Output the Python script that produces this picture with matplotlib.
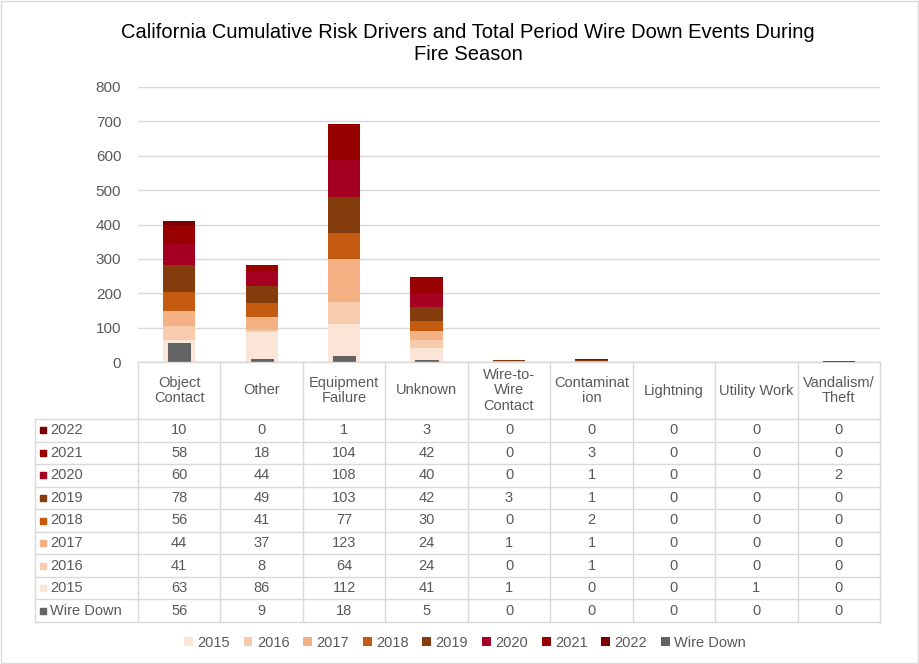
import numpy as np
import matplotlib.pyplot as plt
from matplotlib.patches import Patch

plt.rcParams['font.family'] = ['Liberation Sans', 'DejaVu Sans']

categories = ['Object\nContact', 'Other', 'Equipment\nFailure', 'Unknown', 'Wire-to-\nWire\nContact',
              'Contaminat\nion', 'Lightning', 'Utility Work', 'Vandalism/\nTheft']
years = ['2015', '2016', '2017', '2018', '2019', '2020', '2021', '2022']
y2015 = [63, 86, 112, 41, 1, 0, 0, 1, 0]
y2016 = [41, 8, 64, 24, 0, 1, 0, 0, 0]
y2017 = [44, 37, 123, 24, 1, 1, 0, 0, 0]
y2018 = [56, 41, 77, 30, 0, 2, 0, 0, 0]
y2019 = [78, 49, 103, 42, 3, 1, 0, 0, 0]
y2020 = [60, 44, 108, 40, 0, 1, 0, 0, 2]
y2021 = [58, 18, 104, 42, 0, 3, 0, 0, 0]
y2022 = [10, 0, 1, 3, 0, 0, 0, 0, 0]
wire_down = [56, 9, 18, 5, 0, 0, 0, 0, 0]

year_vals = [y2015, y2016, y2017, y2018, y2019, y2020, y2021, y2022]
year_colors = ['#FBE5D6', '#F8CBAD', '#F4B183', '#C55A11', '#843C0C', '#A50021', '#990000', '#7B0000']
wire_color = '#636363'

grid_c = '#D9D9D9'
text_c = '#595959'

W, H = 920, 664
fig = plt.figure(figsize=(W / 100, H / 100), dpi=100)

# main bar axes (pixel layout)
x0, x1 = 138, 880
ytop, ybot = 87, 362
ax = fig.add_axes([x0 / W, (H - ybot) / H, (x1 - x0) / W, (ybot - ytop) / H])
n = len(categories)
x = np.arange(n) + 0.5
bottom = np.zeros(n)
for vals, col in zip(year_vals, year_colors):
    ax.bar(x, vals, width=0.39, bottom=bottom, color=col, zorder=2)
    bottom += np.array(vals)
ax.bar(x, wire_down, width=0.27, color=wire_color, edgecolor='#555555', linewidth=0.6, zorder=3)
ax.set_xlim(0, n)
ax.set_ylim(0, 800)
ax.set_yticks(range(0, 801, 100))
ax.yaxis.grid(True, color=grid_c, linewidth=1, zorder=0)
ax.set_xticks([])
ax.tick_params(axis='y', length=0, labelsize=11, labelcolor=text_c, pad=12)
for s in ax.spines.values():
    s.set_visible(False)
ax.axhline(0, color=grid_c, linewidth=1, zorder=1)

# data table axes
tl = 35
tb = 622
col_w = (x1 - x0) / n
lab_w = (x0 - tl) / col_w
axt = fig.add_axes([tl / W, (H - tb) / H, (x1 - tl) / W, (tb - ybot) / H])
axt.set_xlim(-lab_w, n)
hdr = 57
row_h = (tb - ybot - hdr) / 9
axt.set_ylim(tb - ybot, 0)
axt.axis('off')

rows = list(zip(years, year_vals, year_colors))[::-1] + [('Wire Down', wire_down, wire_color)]
# grid lines
for i in range(n + 1):
    axt.plot([i, i], [0, tb - ybot], color=grid_c, lw=1, clip_on=False)
axt.plot([-lab_w, -lab_w], [hdr, tb - ybot], color=grid_c, lw=1, clip_on=False)
axt.plot([0, n], [0, 0], color=grid_c, lw=1, clip_on=False)
for r in range(10):
    yy = hdr + r * row_h
    axt.plot([-lab_w, n], [yy, yy], color=grid_c, lw=1, clip_on=False)

for i, c in enumerate(categories):
    axt.text(i + 0.5, hdr / 2, c, ha='center', va='center', fontsize=10.5, color=text_c, linespacing=1.15)

for r, (lab, vals, col) in enumerate(rows):
    yc = hdr + (r + 0.5) * row_h
    axt.scatter([-lab_w + 0.1], [yc], marker='s', s=22, color=col, clip_on=False)
    axt.text(-lab_w + 0.18, yc, lab, ha='left', va='center', fontsize=10.5, color=text_c)
    for i, v in enumerate(vals):
        axt.text(i + 0.5, yc, str(v), ha='center', va='center', fontsize=10.5, color=text_c)

# title
fig.text(468 / W, 1 - 44 / H, 'California Cumulative Risk Drivers and Total Period Wire Down Events During\nFire Season',
         ha='center', va='center', fontsize=14.5, color='#000000', linespacing=1.2)

# legend
handles = [Patch(facecolor=c, edgecolor='none') for c in year_colors] + [Patch(facecolor=wire_color, edgecolor='none')]
labels = years + ['Wire Down']
fig.legend(handles, labels, loc='center', bbox_to_anchor=(465 / W, 1 - 643 / H), ncol=9, frameon=False,
           fontsize=10.5, labelcolor=text_c, handlelength=0.6, handleheight=0.6, handletextpad=0.3,
           columnspacing=0.95)

# chart border
fig.patches.append(plt.Rectangle((0.001, 0.001), 0.997, 0.997, transform=fig.transFigure,
                                 fill=False, edgecolor=grid_c, linewidth=1))

fig.savefig('out.png', dpi=100)
